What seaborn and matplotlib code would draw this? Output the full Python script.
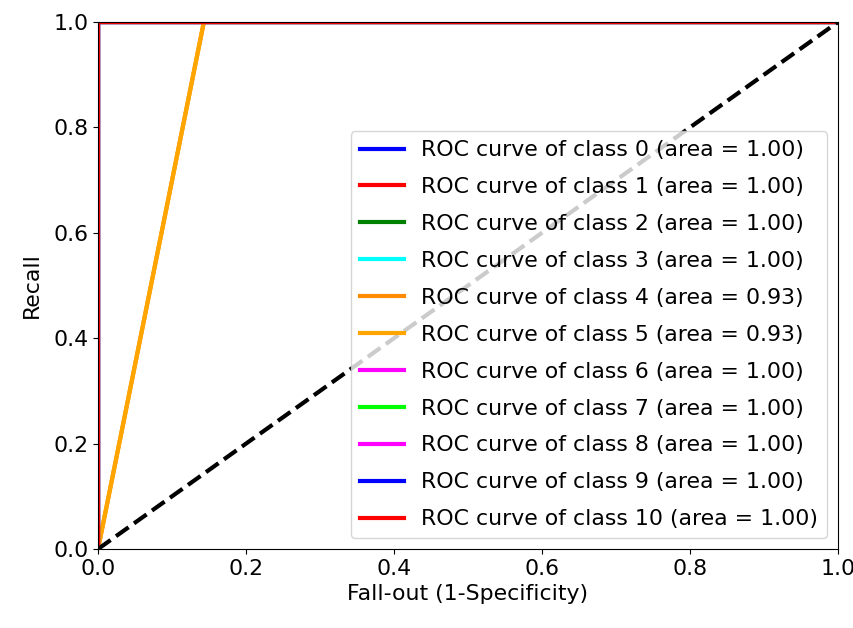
import numpy as np
import pandas as pd
import matplotlib
matplotlib.use("Agg")
import matplotlib.pyplot as plt
import seaborn as sns

# ROC data
classes = list(range(11))
areas = [1.00, 1.00, 1.00, 1.00, 0.93, 0.93, 1.00, 1.00, 1.00, 1.00, 1.00]
colors = ['blue', 'red', 'green', 'cyan', 'darkorange', 'orange',
          'magenta', 'lime', 'fuchsia', 'blue', 'red']
perfect_fpr = [0.0, 0.0, 1.0]
perfect_tpr = [0.0, 1.0, 1.0]
partial_fpr = [0.0, 0.143, 1.0]
partial_tpr = [0.0, 1.0, 1.0]

rows = []
for c, a in zip(classes, areas):
    fpr = partial_fpr if a < 1 else perfect_fpr
    tpr = partial_tpr if a < 1 else perfect_tpr
    for i, (f, t) in enumerate(zip(fpr, tpr)):
        rows.append({"cls": c, "order": i, "fpr": f, "tpr": t,
                     "label": f"ROC curve of class {c} (area = {a:.2f})"})
df = pd.DataFrame(rows)

plt.rcParams['font.size'] = 15.8
fig = plt.figure(figsize=(8.54, 6.28), dpi=100)
ax = fig.add_axes([0.1148, 0.1258, 0.8665, 0.8392])

for c, col in zip(classes, colors):
    d = df[df["cls"] == c]
    sns.lineplot(data=d, x="fpr", y="tpr", sort=False, estimator=None,
                 color=col, lw=3, label=d["label"].iloc[0], ax=ax)

ax.plot([0, 1], [0, 1], 'k--', lw=3)
ax.set_xlim(0.0, 1.0)
ax.set_ylim(0.0, 1.0)
ax.set_xlabel("Fall-out (1-Specificity)")
ax.set_ylabel("Recall", labelpad=8)
ax.legend(loc="lower right", fontsize=15.8, labelspacing=0.77)

fig.savefig("out.png", dpi=100)
